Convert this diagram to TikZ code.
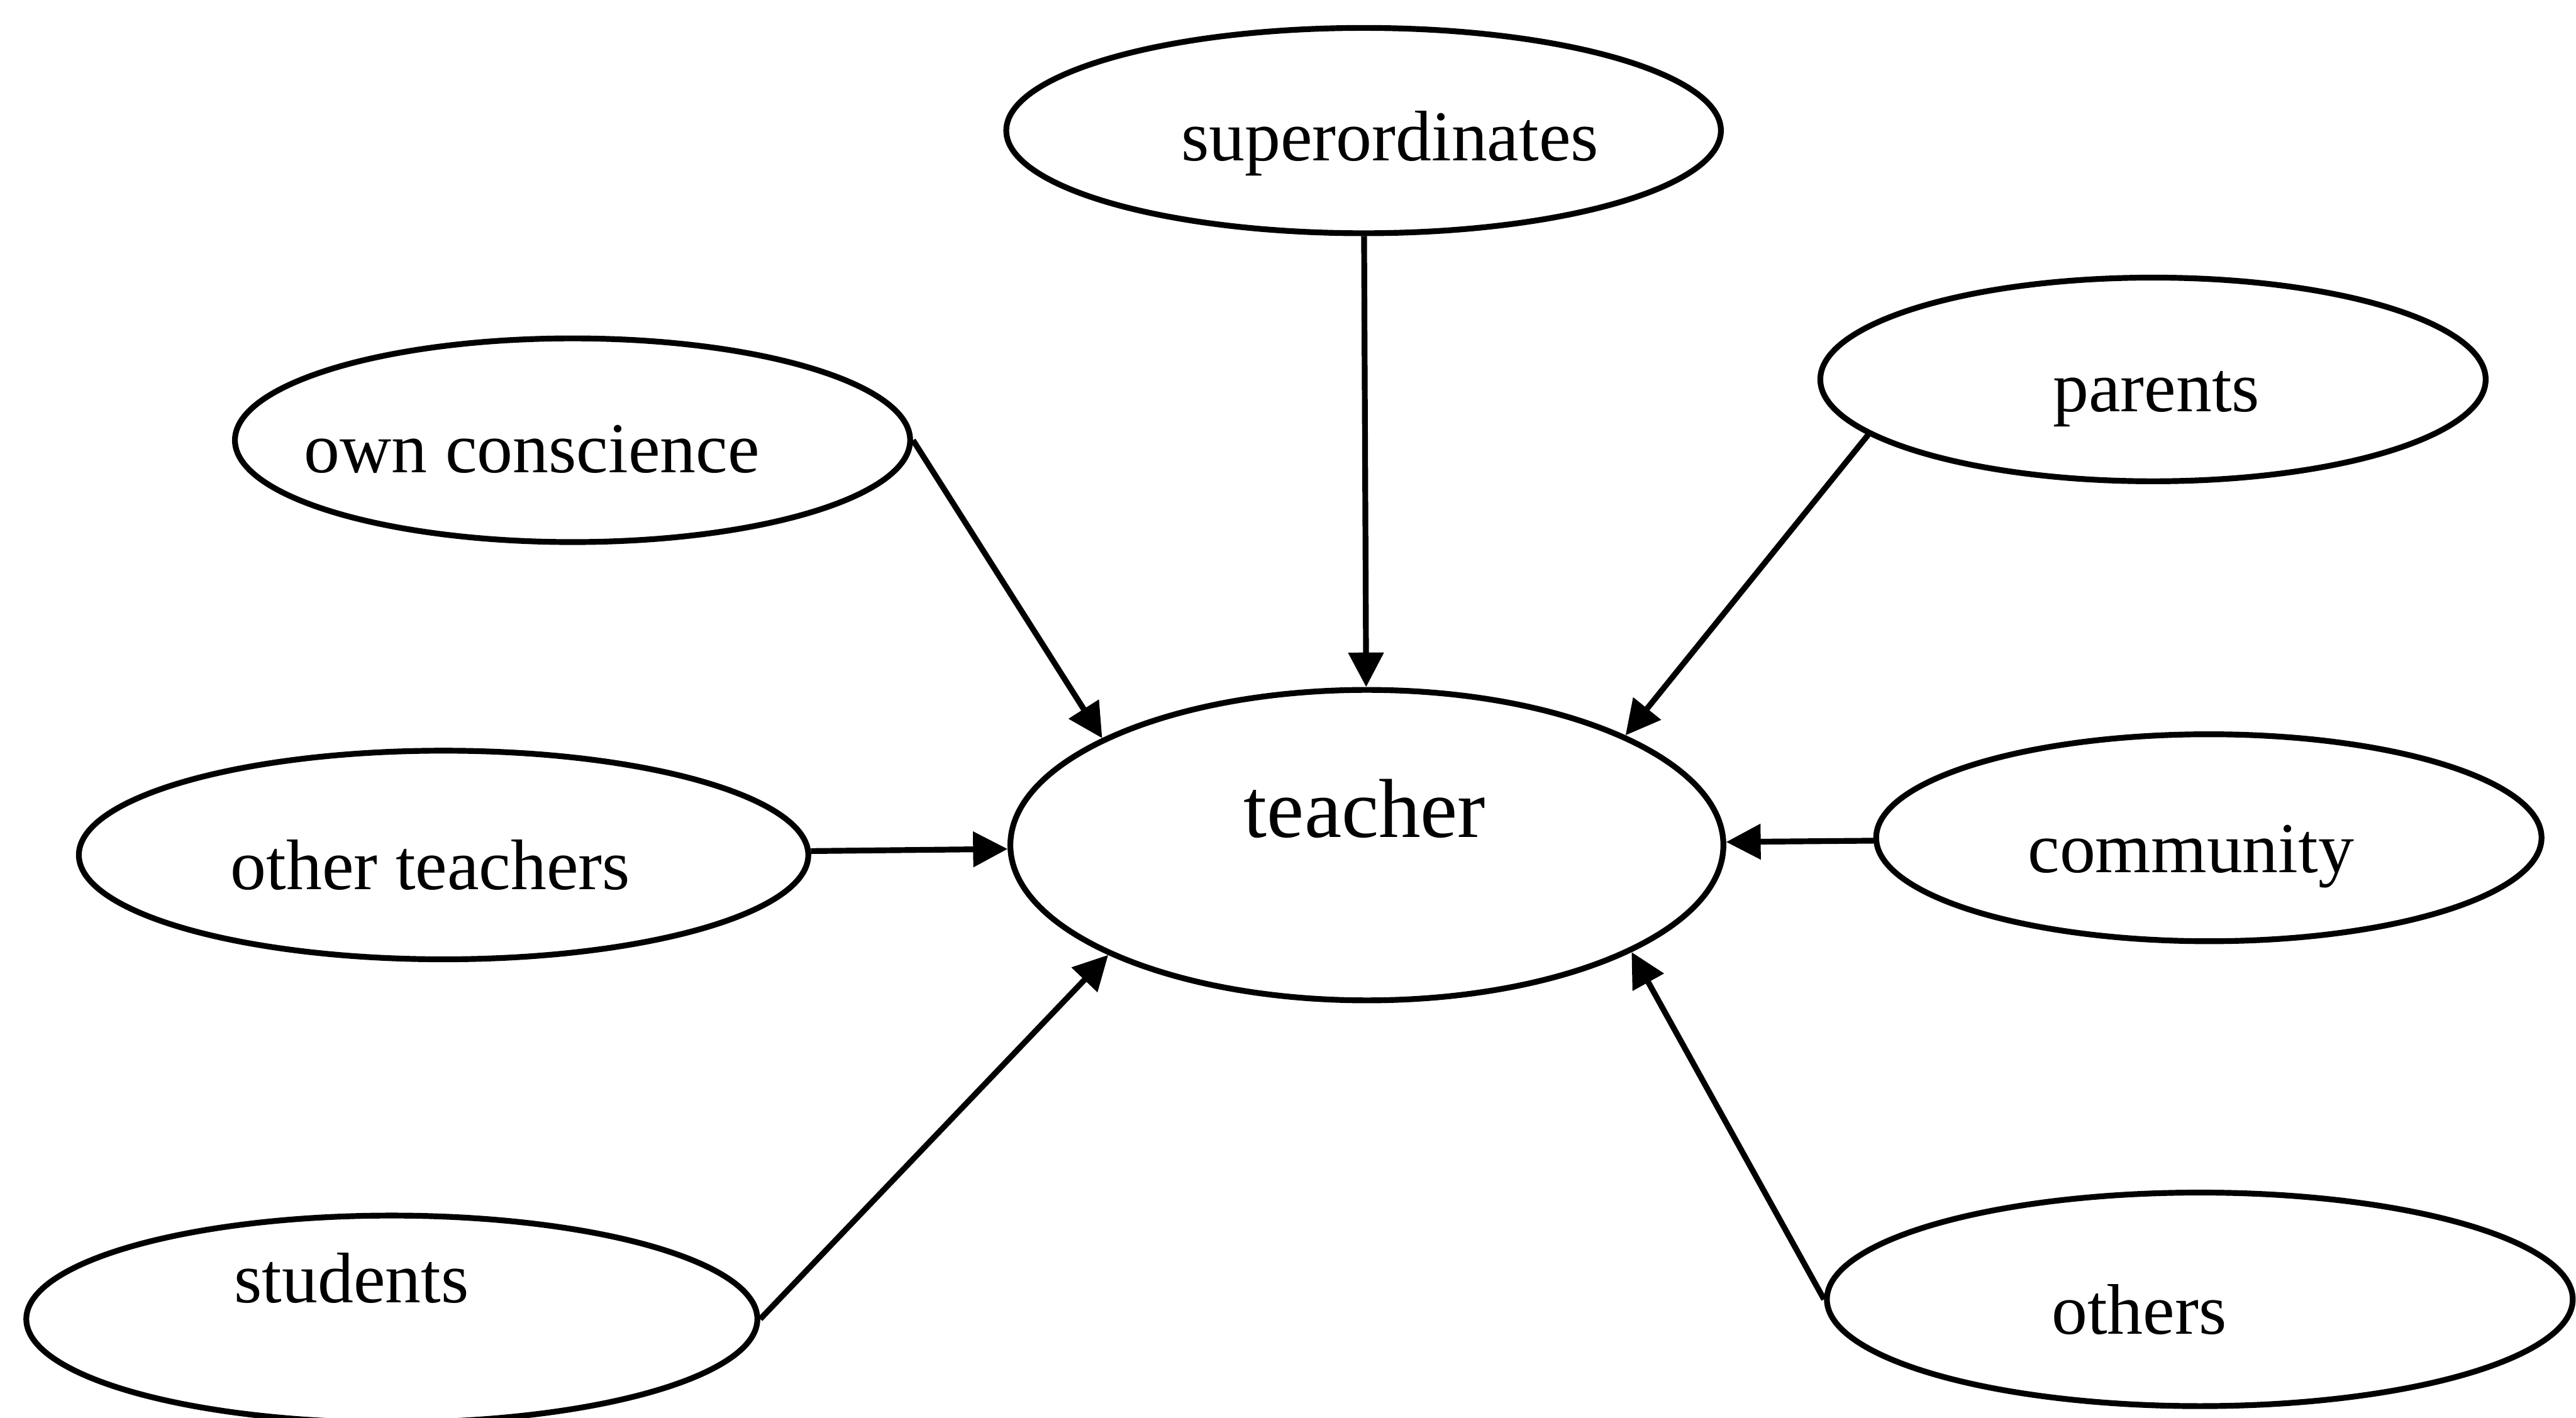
\documentclass[tikz,border=0pt]{standalone}
\usepackage{fontspec}
\setmainfont{Liberation Serif}
\usetikzlibrary{shapes.geometric,arrows.meta}
\begin{document}
\begin{tikzpicture}
[ovaldecorate/.style={shape=ellipse,draw,line width=1pt,inner sep=0pt},%
  textdecorate/.style={anchor=base,inner sep=0pt,font=\fontsize{12.4}{15}\selectfont},%
  linedecorate/.style={-{Triangle[length=2.1mm,width=2.1mm]},line width=1pt}]
\useasboundingbox (0,0) rectangle (15.68,8.63);
% ovals
\node (teacher) at (8.32,3.485) [ovaldecorate,minimum width=4.34cm,minimum height=1.89cm] {};
\node (teachertext) at (8.307,3.533) [textdecorate,font=\fontsize{14.5}{17}\selectfont] {teacher};
\node (sup) at (8.30,7.835) [ovaldecorate,minimum width=4.35cm,minimum height=1.25cm] {};
\node (suptext) at (8.46,7.65) [textdecorate] {superordinates};
\node (par) at (13.105,6.32) [ovaldecorate,minimum width=4.05cm,minimum height=1.24cm] {};
\node (partext) at (13.125,6.123) [textdecorate] {parents};
\node (own) at (3.485,5.95) [ovaldecorate,minimum width=4.11cm,minimum height=1.24cm] {};
\node (owntext) at (3.237,5.753) [textdecorate] {own conscience};
\node (oth) at (2.70,3.425) [ovaldecorate,minimum width=4.44cm,minimum height=1.27cm] {};
\node (othtext) at (2.62,3.214) [textdecorate] {other teachers};
\node (com) at (13.445,3.53) [ovaldecorate,minimum width=4.05cm,minimum height=1.26cm] {};
\node (comtext) at (13.336,3.32) [textdecorate] {community};
\node (stu) at (2.385,0.60) [ovaldecorate,minimum width=4.45cm,minimum height=1.26cm] {};
\node (stutext) at (2.14,0.70) [textdecorate] {students};
\node (rest) at (13.39,0.72) [ovaldecorate,minimum width=4.54cm,minimum height=1.30cm] {};
\node (resttext) at (13.02,0.51) [textdecorate] {others};
% arrows into teacher
\path
(sup) edge[linedecorate] (teacher)
(own.east) edge[linedecorate] (teacher.158)
(par.191) edge[linedecorate] (teacher.23)
(oth) edge[linedecorate] (teacher)
(com) edge[linedecorate] (teacher)
(stu.east) edge[linedecorate] (teacher.203)
(rest.west) edge[linedecorate] (teacher.338.6);
\end{tikzpicture}
\end{document}
